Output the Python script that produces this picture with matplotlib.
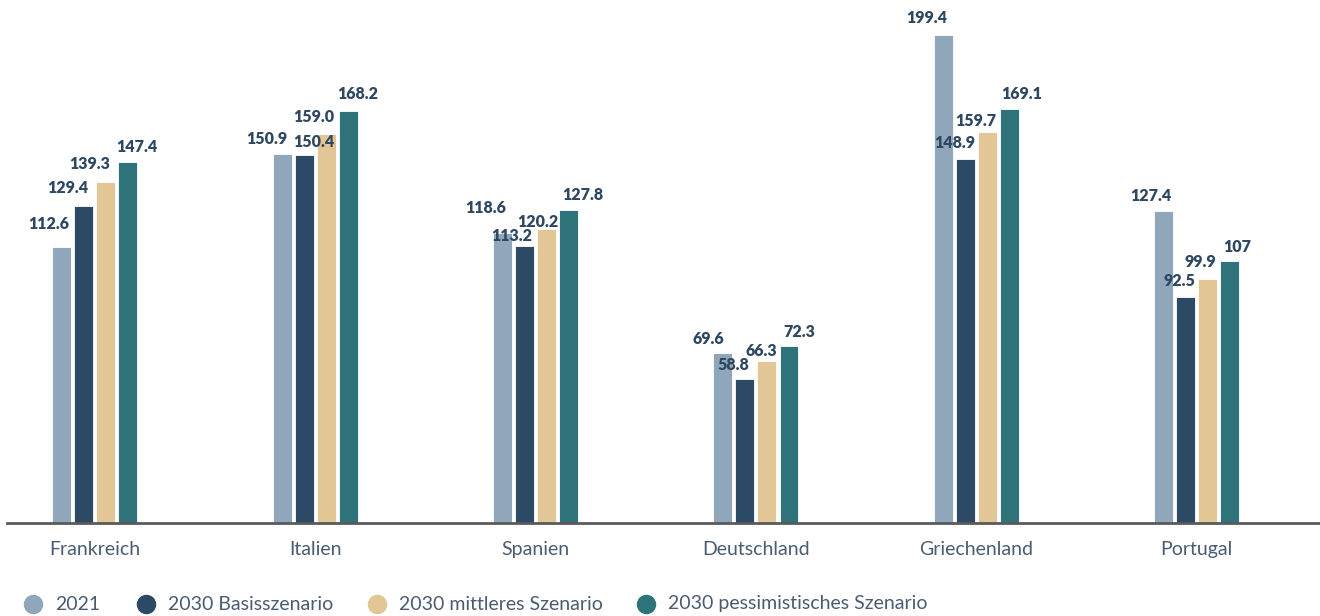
import numpy as np
import matplotlib
matplotlib.use("Agg")
import matplotlib.pyplot as plt
from matplotlib.lines import Line2D

plt.rcParams['font.family'] = ['Lato', 'DejaVu Sans']

laender = ['Frankreich', 'Italien', 'Spanien', 'Deutschland', 'Griechenland', 'Portugal']
serien = ['2021', '2030 Basisszenario', '2030 mittleres Szenario', '2030 pessimistisches Szenario']

w2021 = [112.6, 150.9, 118.6, 69.6, 199.4, 127.4]
basis = [129.4, 150.4, 113.2, 58.8, 148.9, 92.5]
mittel = [139.3, 159.0, 120.2, 66.3, 159.7, 99.9]
pessim = [147.4, 168.2, 127.8, 72.3, 169.1, 107]
etiketten = [
    ['112.6', '150.9', '118.6', '69.6', '199.4', '127.4'],
    ['129.4', '150.4', '113.2', '58.8', '148.9', '92.5'],
    ['139.3', '159.0', '120.2', '66.3', '159.7', '99.9'],
    ['147.4', '168.2', '127.8', '72.3', '169.1', '107'],
]

farben = ['#8fa6bb', '#2c4966', '#e2c696', '#2e7379']
txt_farbe = '#2f4862'
achsen_farbe = '#4a5c72'

# label shifts in pixels (label placement in the original avoids overlaps)
dx = [
    [-13, -15, -17, -15, -17, -13],
    [-16, 10, -13, -12, -11, -6],
    [-16, -13, -9, -6, -12, -7],
    [9, 9, 14, 10, 12, 8],
]
dy = [
    [23, 15, 25, 14, 17, 15],
    [18, 13, 10, 14, 16, 16],
    [18, 17, 7, 10, 11, 17],
    [15, 17, 15, 14, 15, 14],
]

fig = plt.figure(figsize=(13.2, 6.16), dpi=100)
ax = fig.add_axes([7/1320, 1 - 523/616, 1 - 7/1320, 523/616])

x = np.arange(len(laender))
breite = 0.086
versatz = [-0.15, -0.05, 0.05, 0.15]
daten = [w2021, basis, mittel, pessim]

for i, werte in enumerate(daten):
    bars = ax.bar(x + versatz[i], werte, breite, color=farben[i],
                  edgecolor='#ffffff', linewidth=0.6, zorder=2)
    for j, b in enumerate(bars):
        ax.annotate(etiketten[i][j], (b.get_x() + b.get_width() / 2, b.get_height()),
                    xytext=(dx[i][j], dy[i][j]), textcoords='offset pixels',
                    ha='center', va='center', fontsize=11.5, fontweight='heavy',
                    color=txt_farbe, zorder=3)

ax.set_xlim(-0.399, 5.56)
ax.set_ylim(0, 213.7)
ax.set_xticks(x)
ax.set_xticklabels(laender, fontsize=14, color=achsen_farbe)
ax.tick_params(axis='x', length=0, pad=13)
ax.set_yticks([])
for s in ['top', 'right', 'left']:
    ax.spines[s].set_visible(False)
ax.spines['bottom'].set_color('#5a5a5a')
ax.spines['bottom'].set_linewidth(2)

# legend drawn by hand along the bottom edge
leg_x = [33, 146, 377, 646]
leg_y = 1 - 604 / 616
for c, name, px in zip(farben, serien, leg_x):
    fig.add_artist(Line2D([px / 1320], [leg_y], marker='o', markersize=13,
                          color=c, linestyle='none', transform=fig.transFigure))
    fig.text((px + 22) / 1320, leg_y, name, fontsize=14, color=achsen_farbe,
             ha='left', va='center')

fig.savefig('out.png', dpi=100)
